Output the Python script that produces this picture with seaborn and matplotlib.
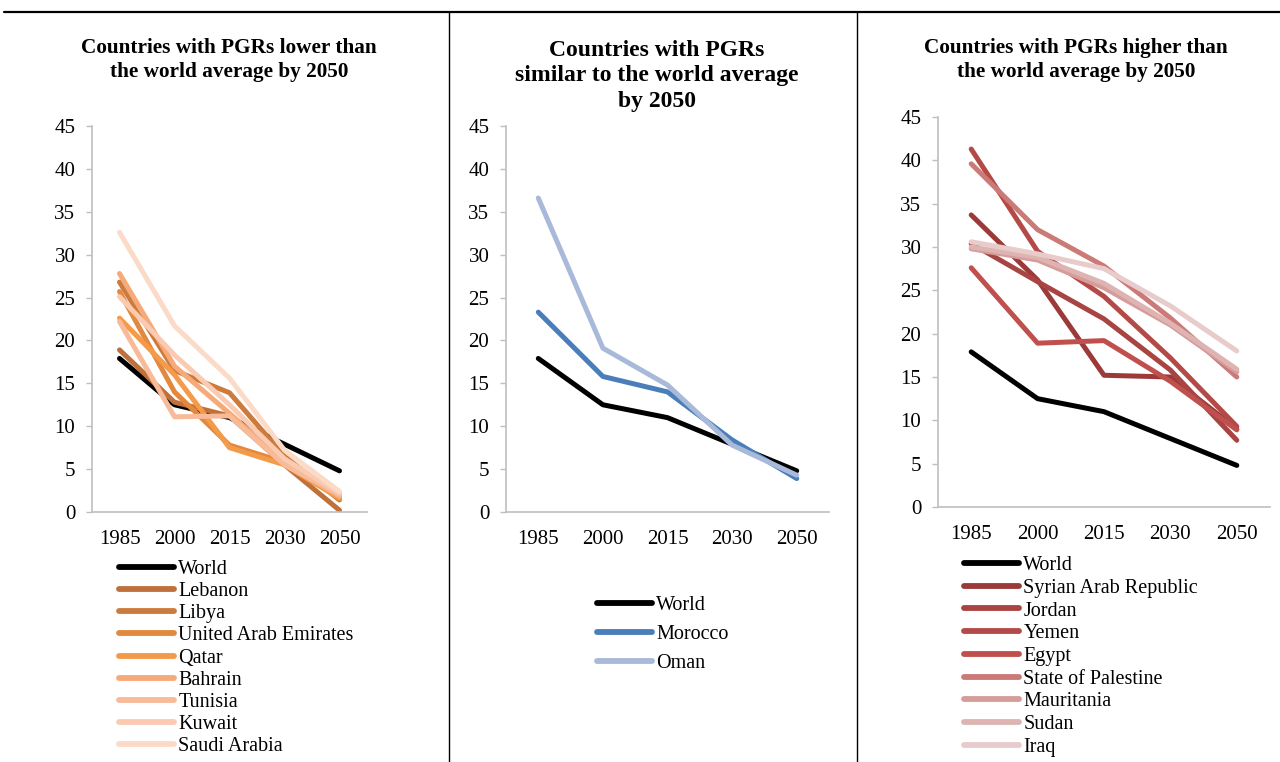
import matplotlib
matplotlib.use("Agg")
import matplotlib.pyplot as plt
from matplotlib.lines import Line2D
import seaborn as sns
import pandas as pd

sns.set_theme(style="white")
plt.rcParams["font.family"] = ["Liberation Serif", "DejaVu Serif"]
plt.rcParams["text.color"] = "black"
plt.rcParams["axes.labelcolor"] = "black"
plt.rcParams["xtick.color"] = "black"
plt.rcParams["ytick.color"] = "black"

years = ["1985", "2000", "2015", "2030", "2050"]
world = [17.9, 12.5, 11.0, 7.9, 4.8]

# Panel 1: lower than world average by 2050
low_names = ["Lebanon", "Libya", "United Arab Emirates", "Qatar", "Bahrain",
             "Tunisia", "Kuwait", "Saudi Arabia"]
lebanon = [18.9, 12.8, 11.2, 5.5, 0.2]
libya = [26.8, 16.5, 13.9, 6.5, 1.4]
uae = [25.7, 14.0, 7.8, 5.8, 1.8]
qatar = [22.6, 16.0, 7.5, 5.5, 1.6]
bahrain = [27.8, 17.0, 11.5, 5.8, 1.8]
tunisia = [22.2, 11.1, 11.2, 5.5, 2.0]
kuwait = [25.1, 18.3, 12.5, 6.2, 2.2]
saudi = [32.6, 21.7, 15.6, 7.2, 2.4]
low_values = [lebanon, libya, uae, qatar, bahrain, tunisia, kuwait, saudi]
low_colors = ["#c0703a", "#cc7b3c", "#e2883f", "#f49a48", "#f6aa79",
              "#f8bb9a", "#facbb2", "#fcdac8"]

# Panel 2: similar to world average by 2050
mid_names = ["Morocco", "Oman"]
morocco = [23.3, 15.8, 14.0, 8.4, 3.9]
oman = [36.6, 19.1, 14.8, 7.8, 4.3]
mid_values = [morocco, oman]
mid_colors = ["#4a7ebb", "#a9b9d9"]

# Panel 3: higher than world average by 2050
high_names = ["Syrian Arab Republic", "Jordan", "Yemen", "Egypt",
              "State of Palestine", "Mauritania", "Sudan", "Iraq"]
syria = [33.7, 26.2, 15.2, 15.0, 9.0]
jordan = [30.4, 26.0, 21.7, 15.8, 7.7]
yemen = [41.3, 29.5, 24.3, 17.2, 9.3]
egypt = [27.6, 18.9, 19.2, 14.5, 8.9]
palestine = [39.6, 32.0, 27.8, 21.8, 15.0]
mauritania = [29.8, 28.5, 25.3, 21.0, 15.6]
sudan = [30.0, 28.8, 25.8, 21.2, 15.9]
iraq = [30.6, 29.2, 27.5, 23.2, 18.0]
high_values = [syria, jordan, yemen, egypt, palestine, mauritania, sudan, iraq]
high_colors = ["#9b3a39", "#a84442", "#b44a48", "#c0504d", "#cb7a78",
               "#d59c9a", "#deb4b3", "#e8cbcb"]

titles = ["Countries with PGRs lower than\nthe world average by 2050",
          "Countries with PGRs\nsimilar to the world average\nby 2050",
          "Countries with PGRs higher than\nthe world average by 2050"]


def long_frame(names, values):
    rows = []
    for name, vals in zip(["World"] + names, [world] + values):
        for yr, v in zip(years, vals):
            rows.append({"year": yr, "country": name, "pgr": v})
    return pd.DataFrame(rows)


fig = plt.figure(figsize=(12.8, 7.62), dpi=100)
W, H = 1280, 762


def px_axes(left, right, top, bottom):
    return fig.add_axes([left / W, 1 - bottom / H, (right - left) / W, (bottom - top) / H])


panels = [
    dict(names=low_names, values=low_values, colors=low_colors,
         box=(92, 367, 126, 512), title_xy=(229, 60), title_size=15.3,
         leg=(119, 560, 0.15)),
    dict(names=mid_names, values=mid_values, colors=mid_colors,
         box=(506, 829, 126, 512), title_xy=(657, 76), title_size=17,
         leg=(597, 596, 0.5)),
    dict(names=high_names, values=high_values, colors=high_colors,
         box=(938, 1270, 117, 507), title_xy=(1076, 60), title_size=15.3,
         leg=(964, 556, 0.18)),
]

for p, title in zip(panels, titles):
    ax = px_axes(*p["box"])
    df = long_frame(p["names"], p["values"])
    order = ["World"] + p["names"]
    palette = dict(zip(order, ["#000000"] + p["colors"]))
    sns.lineplot(data=df, x="year", y="pgr", hue="country", hue_order=order,
                 palette=palette, linewidth=3.6, sort=False, ax=ax, legend=False,
                 solid_capstyle="round")
    ax.set_xlim(-0.5, 4.5)
    ax.set_ylim(0, 45)
    ax.set_yticks(range(0, 46, 5))
    ax.set_xlabel("")
    ax.set_ylabel("")
    for side in ["top", "right"]:
        ax.spines[side].set_visible(False)
    for side in ["left", "bottom"]:
        ax.spines[side].set_color("#bfbfbf")
        ax.spines[side].set_linewidth(1.2)
    ax.tick_params(axis="y", left=True, length=4, width=1, color="#bfbfbf",
                   pad=8, labelsize=15, labelcolor="black")
    ax.tick_params(axis="x", bottom=False, pad=7, labelsize=15, labelcolor="black")
    ax.grid(False)

    fig.text(p["title_xy"][0] / W, 1 - p["title_xy"][1] / H, title,
             ha="center", va="center", fontsize=p["title_size"], fontweight="bold",
             linespacing=1.3, color="black")

    handles = [Line2D([], [], color=palette[n], linewidth=4.2, solid_capstyle="round")
               for n in order]
    lx, ly, spacing = p["leg"]
    fig.legend(handles, order, loc="upper left",
               bbox_to_anchor=(lx / W, 1 - ly / H), frameon=False,
               fontsize=14.5, handlelength=2.75, handletextpad=0.2,
               labelspacing=spacing, borderpad=0, borderaxespad=0)

# Panel frame lines
fig.add_artist(Line2D([4 / W, 1], [1 - 12 / H, 1 - 12 / H], color="black", linewidth=1.6))
for xs in (449, 857):
    fig.add_artist(Line2D([xs / W, xs / W], [0, 1 - 12 / H], color="black", linewidth=1.0))

fig.savefig("out.png", dpi=100)
